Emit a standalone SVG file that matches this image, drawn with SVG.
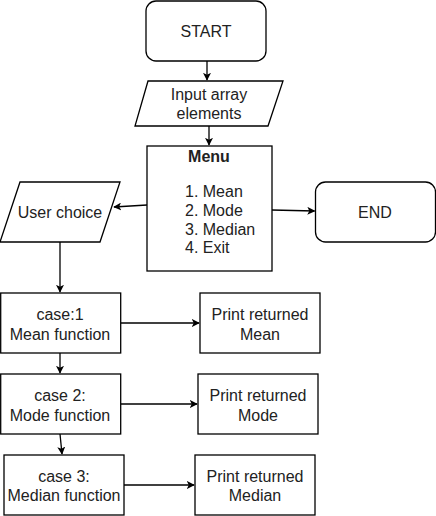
<svg xmlns="http://www.w3.org/2000/svg" width="436" height="516" viewBox="0 0 436 516">
<defs>
<marker id="ah" viewBox="0 0 10 10" refX="9" refY="5" markerWidth="8" markerHeight="8" markerUnits="userSpaceOnUse" orient="auto">
<path d="M0,0 L10,5 L0,10 L2.5,5 Z" fill="#000"/>
</marker>
</defs>
<style>
.s{fill:#fff;stroke:#000;stroke-width:1.3}
.t{font-family:"Liberation Sans",Arial,sans-serif;font-size:16px;fill:#222;text-anchor:middle}
.c{fill:none;stroke:#000;stroke-width:1.3;marker-end:url(#ah)}
</style>
<rect width="436" height="516" fill="#fff"/>
<g id="start"><rect class="s" x="146" y="1" width="120" height="60" rx="10"/><text class="t" x="206" y="36.5">START</text></g>
<g id="input"><polygon class="s" points="148,81 283,81 268,126 135,126"/><text class="t" x="209" y="100">Input array</text><text class="t" x="209" y="119">elements</text></g>
<g id="menu"><rect class="s" x="147" y="146" width="125" height="125"/>
<text class="t" x="209" y="161.5" style="font-weight:bold">Menu</text>
<text class="t" x="185" y="197" style="text-anchor:start">1. Mean</text>
<text class="t" x="185" y="215.5" style="text-anchor:start">2. Mode</text>
<text class="t" x="185" y="234.5" style="text-anchor:start">3. Median</text>
<text class="t" x="185" y="253" style="text-anchor:start">4. Exit</text></g>
<g id="choice"><polygon class="s" points="20,182 120,182 100,242 0,242"/><text class="t" x="60" y="218">User choice</text></g>
<g id="end"><rect class="s" x="315.5" y="182" width="120" height="60" rx="10"/><text class="t" x="375" y="218">END</text></g>
<g id="case1"><rect class="s" x="0.7" y="293" width="120" height="60"/><text class="t" x="60" y="319.5">case:1</text><text class="t" x="60" y="339.5">Mean function</text></g>
<g id="pmean"><rect class="s" x="200" y="293" width="120" height="60"/><text class="t" x="260" y="319.5">Print returned</text><text class="t" x="260" y="339.5">Mean</text></g>
<g id="case2"><rect class="s" x="0.7" y="374" width="120" height="60"/><text class="t" x="60" y="400.5">case 2:</text><text class="t" x="60" y="420.5">Mode function</text></g>
<g id="pmode"><rect class="s" x="198" y="374" width="120" height="60"/><text class="t" x="258" y="400.5">Print returned</text><text class="t" x="258" y="420.5">Mode</text></g>
<g id="case3"><rect class="s" x="4" y="455" width="120" height="60"/><text class="t" x="64" y="481.5">case 3:</text><text class="t" x="64" y="501">Median function</text></g>
<g id="pmedian"><rect class="s" x="195" y="455" width="120" height="60"/><text class="t" x="255" y="481.5">Print returned</text><text class="t" x="255" y="501">Median</text></g>
<g id="connectors">
<path class="c" d="M207,61 L207,80"/>
<path class="c" d="M209,126 L209,145"/>
<path class="c" d="M147,205 L114,207"/>
<path class="c" d="M272,210 L314.5,211"/>
<path class="c" d="M60,242 L60,292"/>
<path class="c" d="M121,323 L199,323"/>
<path class="c" d="M60,353 L60,373"/>
<path class="c" d="M121,404 L197,404"/>
<path class="c" d="M60,434 L62,454"/>
<path class="c" d="M124,485 L194,485"/>
</g>
</svg>
